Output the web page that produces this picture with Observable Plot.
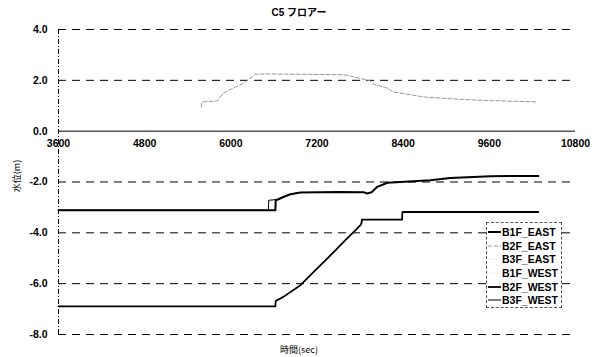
<!DOCTYPE html>
<html>
<head>
<meta charset="utf-8">
<script src="https://cdn.jsdelivr.net/npm/d3@7"></script>
<script src="https://cdn.jsdelivr.net/npm/@observablehq/plot@0.6"></script>
<style>
  html, body { margin: 0; padding: 0; background: #fff; }
  #wrap { position: relative; width: 598px; height: 357px; font-family: "Liberation Sans", Arial, sans-serif; }
  #title { position: absolute; top: 4px; left: 0; width: 598px; text-align: center; font: bold 10px "Liberation Sans", "Noto Sans CJK JP", sans-serif; }
  #ylab { position: absolute; left: 16px; top: 176px; transform: translate(-50%, -50%) rotate(-90deg); font: 9px "Noto Sans CJK JP", sans-serif; white-space: nowrap; }
  #xlab { position: absolute; top: 343px; left: 0; width: 598px; text-align: center; font: 9px "Noto Sans CJK JP", sans-serif; }
  #legend { position: absolute; left: 486px; top: 222px; width: 76px; height: 86px; border: 1px dashed #555; box-sizing: border-box; background: #fff; font: bold 10.5px "Liberation Sans", Arial, sans-serif; padding-top: 2px; }
  .row { height: 13.7px; display: flex; align-items: center; }
  .row svg { width: 13px; height: 8px; margin-left: 1px; margin-right: 1px; }
</style>
</head>
<body>
<div id="wrap">
  <div id="title">C5 フロアー</div>
  <div id="ylab">水位(m)</div>
  <div id="xlab">時間(sec)</div>
  <div id="chart"></div>
  <div id="legend"></div>
</div>
<script>
// ---- data ----
const xTicks = [3600, 4800, 6000, 7200, 8400, 9600, 10800];
const yTicks = [4, 2, 0, -2, -4, -6, -8];
const seriesNames = ["B1F_EAST", "B2F_EAST", "B3F_EAST", "B1F_WEST", "B2F_WEST", "B3F_WEST"];

const b1fEastT = [3600, 6620, 6625, 6662, 6732, 6830, 6969, 7500, 7846, 7900, 7960, 8040, 8180, 8361, 8778, 9057, 9613, 10282];
const b1fEastV = [-3.11, -3.11, -2.72, -2.68, -2.59, -2.48, -2.41, -2.39, -2.40, -2.45, -2.40, -2.19, -2.03, -2.00, -1.93, -1.84, -1.77, -1.76];

const b2fEastT = [5586, 5600, 5810, 5897, 6175, 6342, 6500, 7567, 7665, 7943, 7985, 8180, 8263, 8709, 9154, 9432, 10268];
const b2fEastV = [0.96, 1.15, 1.19, 1.50, 1.89, 2.24, 2.25, 2.22, 2.17, 1.98, 1.85, 1.69, 1.54, 1.34, 1.26, 1.22, 1.15];

const b3fEastT = [3600, 6523, 6528, 6620];
const b3fEastV = [-3.11, -3.11, -2.72, -2.72];

const b1fWestT = [3600, 6620];
const b1fWestV = [-6.89, -6.89];

const b2fWestT = [3600, 6620, 6625, 6732, 6969, 7154, 7317, 7456, 7595, 7734, 7804, 7820, 7825, 8384, 8390, 10282];
const b2fWestV = [-6.89, -6.89, -6.68, -6.52, -6.06, -5.54, -5.08, -4.69, -4.29, -3.90, -3.70, -3.62, -3.48, -3.48, -3.18, -3.18];

const b3fWestT = [3600, 6523, 6528, 6662, 6732, 6830, 6969];
const b3fWestV = [-3.11, -3.11, -2.72, -2.68, -2.59, -2.48, -2.41];

// ---- build tables ----
const mk = (ts, vs) => ts.map((t, i) => ({t, v: vs[i]}));
const styles = {
  B1F_EAST: {stroke: "#000", strokeWidth: 2},
  B2F_EAST: {stroke: "#999", strokeWidth: 1, strokeDasharray: "4,2"},
  B3F_EAST: {stroke: "#eee", strokeWidth: 1},
  B1F_WEST: {stroke: "#eee", strokeWidth: 1},
  B2F_WEST: {stroke: "#000", strokeWidth: 1.8},
  B3F_WEST: {stroke: "#000", strokeWidth: 1}
};
const data = {
  B1F_EAST: mk(b1fEastT, b1fEastV),
  B2F_EAST: mk(b2fEastT, b2fEastV),
  B3F_EAST: mk(b3fEastT, b3fEastV),
  B1F_WEST: mk(b1fWestT, b1fWestV),
  B2F_WEST: mk(b2fWestT, b2fWestV),
  B3F_WEST: mk(b3fWestT, b3fWestV)
};
const drawOrder = ["B3F_EAST", "B1F_WEST", "B2F_EAST", "B3F_WEST", "B2F_WEST", "B1F_EAST"];

const chart = Plot.plot({
  width: 598,
  height: 357,
  marginLeft: 58,
  marginRight: 23,
  marginTop: 29,
  marginBottom: 23,
  style: {fontFamily: "Liberation Sans, Arial, sans-serif", fontSize: "10.5px", background: "#fff"},
  x: {domain: [3600, 10800], axis: null},
  y: {domain: [-8, 4], axis: null},
  marks: [
    Plot.ruleY(yTicks.filter(d => d !== 0), {x1: 3600, x2: 10800, stroke: "#000", strokeWidth: 1, strokeDasharray: "8,6"}),
    Plot.ruleX([3600], {y1: -8, y2: 4, stroke: "#000", strokeWidth: 1, strokeDasharray: "5,2,1,2"}),
    Plot.ruleY([0], {x1: 3600, x2: 10800, stroke: "#000", strokeWidth: 1}),
    Plot.text(yTicks, {x: 3600, y: d => d, text: d => d.toFixed(1), textAnchor: "end", dx: -11, fontWeight: "bold", fill: "#000"}),
    Plot.text(xTicks, {x: d => d, y: 0, text: d => String(d), dy: 12, fontWeight: "bold", fill: "#000"}),
    ...drawOrder.map(n => Plot.line(data[n], {x: "t", y: "v", ...styles[n]}))
  ]
});
document.getElementById("chart").appendChild(chart);

// ---- legend ----
const leg = document.getElementById("legend");
for (const n of seriesNames) {
  const s = styles[n];
  const row = document.createElement("div");
  row.className = "row";
  row.innerHTML = `<svg viewBox="0 0 13 8"><line x1="0" y1="4" x2="13" y2="4" stroke="${s.stroke}" stroke-width="${s.strokeWidth}" ${s.strokeDasharray ? `stroke-dasharray="${s.strokeDasharray}"` : ""}/></svg><span>${n}</span>`;
  leg.appendChild(row);
}
</script>
</body>
</html>
